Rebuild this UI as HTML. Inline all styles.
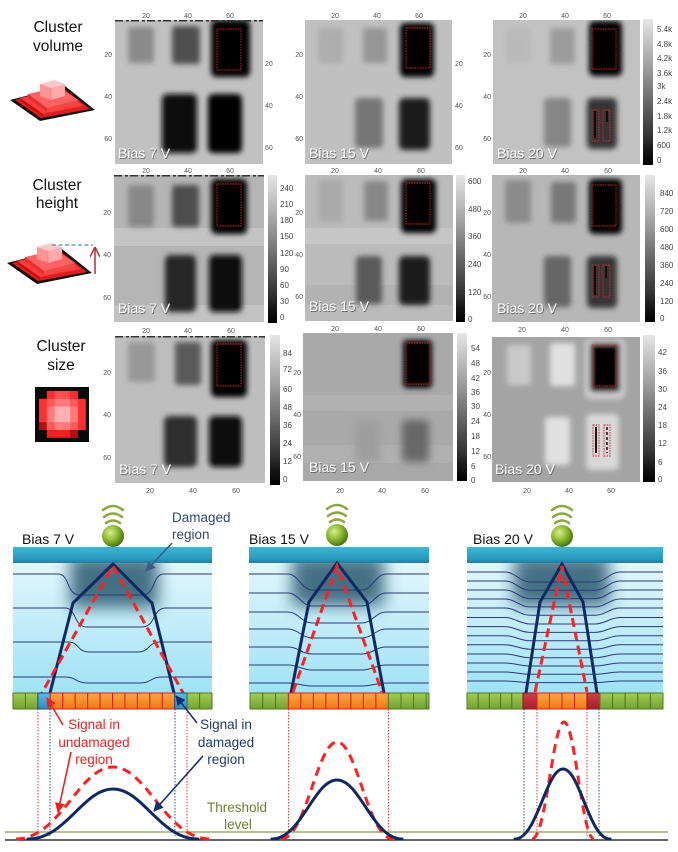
<!DOCTYPE html>
<html><head><meta charset="utf-8"><style>
html,body{margin:0;padding:0;background:#fff;}
svg{display:block;}
text{font-family:"Liberation Sans",sans-serif;}
.ax{font-size:7px;fill:#555;}
.axe{font-size:7px;fill:#555;text-anchor:end;}
.axm{font-size:7px;fill:#555;text-anchor:middle;}
.cb{font-size:8px;fill:#444;}
.bias{font-size:14px;fill:#fff;}
.bsh{font-size:14px;fill:#555;opacity:0.75;}
.rl{font-size:15.5px;fill:#111;text-anchor:middle;}
.rd{stroke:#e02020;stroke-width:0.9;fill:none;stroke-dasharray:1.6,1;}
</style></head><body>
<svg width="678" height="852" viewBox="0 0 678 852" xmlns="http://www.w3.org/2000/svg">
<defs>
<filter id="bl" x="-30%" y="-30%" width="160%" height="160%"><feGaussianBlur stdDeviation="2.6"/></filter>
<filter id="bl4" x="-40%" y="-40%" width="180%" height="180%"><feGaussianBlur stdDeviation="4"/></filter>
<filter id="dmg" x="-60%" y="-60%" width="220%" height="220%"><feGaussianBlur stdDeviation="8"/></filter>
<linearGradient id="cb" x1="0" y1="0" x2="0" y2="1">
<stop offset="0" stop-color="#e6e6e6"/><stop offset="0.1" stop-color="#d0d0d0"/><stop offset="0.2" stop-color="#bbb"/>
<stop offset="0.35" stop-color="#9a9a9a"/><stop offset="0.5" stop-color="#777"/><stop offset="0.65" stop-color="#555"/>
<stop offset="0.8" stop-color="#333"/><stop offset="0.9" stop-color="#161616"/><stop offset="1" stop-color="#000"/></linearGradient>
<linearGradient id="bar" x1="0" y1="0" x2="0" y2="1"><stop offset="0" stop-color="#3cb6d6"/><stop offset="0.7" stop-color="#2a9cc0"/><stop offset="1" stop-color="#1f80a2"/></linearGradient>
<linearGradient id="body" x1="0" y1="0" x2="0" y2="1"><stop offset="0" stop-color="#e2f6fc"/><stop offset="1" stop-color="#9fe2f6"/></linearGradient>
<radialGradient id="ball" cx="0.38" cy="0.35" r="0.7"><stop offset="0" stop-color="#d8ee90"/><stop offset="0.5" stop-color="#8cbb30"/><stop offset="1" stop-color="#3f6a0c"/></radialGradient>
<linearGradient id="gp" x1="0" y1="0" x2="0" y2="1"><stop offset="0" stop-color="#a2cd55"/><stop offset="1" stop-color="#72a234"/></linearGradient>
<linearGradient id="op" x1="0" y1="0" x2="0" y2="1"><stop offset="0" stop-color="#fca544"/><stop offset="1" stop-color="#f07812"/></linearGradient>
<linearGradient id="bp" x1="0" y1="0" x2="0" y2="1"><stop offset="0" stop-color="#5bbbe4"/><stop offset="1" stop-color="#2d8cc4"/></linearGradient>
<linearGradient id="rp" x1="0" y1="0" x2="0" y2="1"><stop offset="0" stop-color="#d24048"/><stop offset="1" stop-color="#a81e28"/></linearGradient>
<marker id="ar" markerUnits="userSpaceOnUse" markerWidth="10" markerHeight="10" refX="9" refY="5" orient="auto"><path d="M0,0 L10,5 L0,10 z" fill="#f02020"/></marker>
<marker id="an" markerUnits="userSpaceOnUse" markerWidth="10" markerHeight="10" refX="9" refY="5" orient="auto"><path d="M0,0 L10,5 L0,10 z" fill="#14306a"/></marker>
<marker id="as" markerUnits="userSpaceOnUse" markerWidth="10" markerHeight="10" refX="9" refY="5" orient="auto"><path d="M0,0 L10,5 L0,10 z" fill="#3a5a8a"/></marker>
<marker id="aup" markerUnits="userSpaceOnUse" markerWidth="10" markerHeight="10" refX="9" refY="5" orient="auto"><path d="M0,0 L10,5 L0,10" fill="none" stroke="#b03030" stroke-width="1.5"/></marker>
<clipPath id="c11"><rect x="115" y="20" width="148" height="144"/></clipPath>
<clipPath id="c12"><rect x="305" y="20" width="147" height="144"/></clipPath>
<clipPath id="c13"><rect x="493" y="20" width="147" height="144"/></clipPath>
<clipPath id="c21"><rect x="114" y="175" width="150" height="147"/></clipPath>
<clipPath id="c22"><rect x="305" y="175" width="148" height="146"/></clipPath>
<clipPath id="c23"><rect x="492" y="175" width="148" height="147"/></clipPath>
<clipPath id="c31"><rect x="115" y="336" width="150" height="147"/></clipPath>
<clipPath id="c32"><rect x="303" y="333" width="150" height="148"/></clipPath>
<clipPath id="c33"><rect x="492" y="337" width="148" height="145"/></clipPath>
<clipPath id="p1"><rect x="13" y="563" width="199" height="130"/></clipPath>
<clipPath id="p2"><rect x="249" y="563" width="180" height="130"/></clipPath>
<clipPath id="p3"><rect x="467" y="563" width="196" height="130"/></clipPath>
</defs>
<rect width="678" height="852" fill="#fff"/>

<!-- Row labels -->
<text class="rl" x="58" y="32">Cluster</text>
<text class="rl" x="58" y="51">volume</text>
<text class="rl" x="57" y="190">Cluster</text>
<text class="rl" x="57" y="208">height</text>
<text class="rl" x="61" y="351">Cluster</text>
<text class="rl" x="61" y="370">size</text>

<!-- Pyramid icon row 1 -->
<g id="pyr">
<polygon points="10,100 65,86 95,110 40,121" fill="#111"/>
<polygon points="15,100 63,88 90,109 41,118" fill="#e81c1c"/>
<polygon points="20,98 60,89 84,106 43,114" fill="#ff3a3a"/>
<polygon points="20,98 43,114 43,117 20,101" fill="#c01010"/>
<polygon points="43,114 84,106 84,109 43,117" fill="#d82020"/>
<polygon points="28,94 59,87 78,100 47,108" fill="#ff6262"/>
<polygon points="28,94 47,108 47,112 28,98" fill="#e03030"/>
<polygon points="47,108 78,100 78,104 47,112" fill="#f04848"/>
<polygon points="40,84 54,80 65,84 51,88" fill="#ffc8c8"/>
<polygon points="40,84 51,88 51,100 40,96" fill="#ff9494"/>
<polygon points="51,88 65,84 65,96 51,100" fill="#ffaaaa"/>
<line x1="51" y1="88" x2="51" y2="100" stroke="#ff7070" stroke-width="0.6"/>
</g>
<!-- Row 2 icon -->
<use href="#pyr" transform="translate(-3,163)"/>
<line x1="52" y1="245" x2="93" y2="245" stroke="#4a8ad0" stroke-width="1.3" stroke-dasharray="4,2.5"/>
<line x1="95" y1="274" x2="95" y2="248" stroke="#b03030" stroke-width="1.5" marker-end="url(#aup)"/>
<!-- Row 3 icon -->
<rect x="35" y="387" width="54" height="55" fill="#0a0a0a"/>
<g>
<rect x="46.8" y="391" width="31.2" height="7.8" fill="#ff2a2a"/>
<rect x="39" y="398.8" width="46.8" height="31.2" fill="#ff3030"/>
<rect x="46.8" y="430" width="31.2" height="7.8" fill="#ee2020"/>
<rect x="39" y="422.2" width="7.8" height="7.8" fill="#b01010"/>
<rect x="70.2" y="430" width="7.8" height="7.8" fill="#b01010"/>
<rect x="46.8" y="398.8" width="31.2" height="31.2" fill="#ff5a5a"/>
<rect x="54.6" y="398.8" width="15.6" height="31.2" fill="#ff7a7a"/>
<rect x="46.8" y="406.6" width="31.2" height="15.6" fill="#ff7a7a"/>
<rect x="54.6" y="406.6" width="15.6" height="15.6" fill="#ffb0b0"/>
<rect x="54.6" y="391" width="15.6" height="7.8" fill="#ff5050"/>
</g>

<!-- ============ ROW 1 ============ -->
<g clip-path="url(#c11)">
<rect x="115" y="20" width="148" height="144" fill="#c1c1c1"/>
<g filter="url(#bl)">
<rect x="128" y="27" width="26" height="36" rx="3" fill="#8a8a8a"/>
<rect x="172" y="26" width="28" height="38" rx="3" fill="#505050"/>
<rect x="211" y="20" width="39" height="57" rx="5" fill="#000"/>
<rect x="162" y="94" width="35" height="59" rx="5" fill="#0e0e0e"/>
<rect x="208" y="94" width="34" height="59" rx="5" fill="#030303"/>
</g>
<line x1="115" y1="20.8" x2="263" y2="20.8" stroke="#333" stroke-width="1.5" stroke-dasharray="8,3,3,2"/>
</g>
<rect class="rd" x="217" y="29" width="24" height="41"/>
<text class="axm" x="146" y="18">20</text><text class="axm" x="188" y="18">40</text><text class="axm" x="230" y="18">60</text>
<text class="axe" x="112" y="57">20</text><text class="axe" x="112" y="99">40</text><text class="axe" x="112" y="141">60</text>
<text class="ax" x="265" y="66">20</text><text class="ax" x="265" y="108">40</text><text class="ax" x="265" y="150">60</text>
<text class="bsh" x="118.8" y="158.8">Bias 7 V</text><text class="bias" x="118" y="158">Bias 7 V</text>

<g clip-path="url(#c12)">
<rect x="305" y="20" width="147" height="144" fill="#c0c0c0"/>
<g filter="url(#bl)">
<rect x="318" y="28" width="25" height="35" rx="3" fill="#adadad"/>
<rect x="363" y="28" width="24" height="35" rx="3" fill="#969696"/>
<rect x="400" y="23" width="34" height="54" rx="5" fill="#000"/>
<rect x="355" y="98" width="28" height="50" rx="4" fill="#767676"/>
<rect x="399" y="98" width="31" height="52" rx="5" fill="#1a1a1a"/>
</g>
</g>
<rect class="rd" x="406" y="28" width="24" height="40"/>
<text class="axm" x="335" y="18">20</text><text class="axm" x="377" y="18">40</text><text class="axm" x="419" y="18">60</text>
<text class="axe" x="303" y="57">20</text><text class="axe" x="303" y="99">40</text><text class="axe" x="303" y="141">60</text>
<text class="ax" x="455" y="66">20</text><text class="ax" x="455" y="108">40</text><text class="ax" x="455" y="150">60</text>
<text class="bsh" x="309.8" y="158.8">Bias 15 V</text><text class="bias" x="309" y="158">Bias 15 V</text>

<g clip-path="url(#c13)">
<rect x="493" y="20" width="147" height="144" fill="#c2c2c2"/>
<g filter="url(#bl)">
<rect x="506" y="28" width="25" height="35" rx="3" fill="#b9b9b9"/>
<rect x="550" y="28" width="25" height="36" rx="3" fill="#9c9c9c"/>
<rect x="589" y="21" width="33" height="55" rx="5" fill="#000"/>
<rect x="544" y="98" width="27" height="49" rx="4" fill="#868686"/>
<rect x="587" y="98" width="30" height="51" rx="5" fill="#363636"/>
</g>
<line x1="595" y1="111" x2="595" y2="138" stroke="#000" stroke-width="1.5"/>
<line x1="607" y1="111" x2="607" y2="122" stroke="#000" stroke-width="1.5"/>
</g>
<rect class="rd" x="592" y="29" width="24" height="40"/>
<rect class="rd" x="592" y="110" width="7" height="31"/>
<rect class="rd" x="603" y="110" width="7" height="31"/>
<text class="axm" x="523" y="18">20</text><text class="axm" x="565" y="18">40</text><text class="axm" x="607" y="18">60</text>
<text class="axe" x="491" y="57">20</text><text class="axe" x="491" y="99">40</text><text class="axe" x="491" y="141">60</text>
<rect x="643" y="19" width="10" height="146" fill="url(#cb)"/>
<text class="cb" x="657" y="32">5.4k</text><text class="cb" x="657" y="47">4.8k</text><text class="cb" x="657" y="61">4.2k</text>
<text class="cb" x="657" y="76">3.6k</text><text class="cb" x="657" y="89">3k</text><text class="cb" x="657" y="104">2.4k</text>
<text class="cb" x="657" y="119">1.8k</text><text class="cb" x="657" y="133">1.2k</text><text class="cb" x="657" y="148">600</text>
<text class="cb" x="657" y="163">0</text>
<text class="bsh" x="497.8" y="158.8">Bias 20 V</text><text class="bias" x="497" y="158">Bias 20 V</text>

<!-- ============ ROW 2 ============ -->
<g clip-path="url(#c21)">
<rect x="114" y="175" width="150" height="147" fill="#b5b5b5"/>
<rect x="114" y="228" width="150" height="18" fill="#c4c4c4"/>
<rect x="114" y="305" width="150" height="17" fill="#c2c2c2"/>
<g filter="url(#bl)">
<rect x="128" y="185" width="26" height="42" rx="3" fill="#888"/>
<rect x="172" y="185" width="27" height="42" rx="3" fill="#4e4e4e"/>
<rect x="211" y="179" width="36" height="55" rx="5" fill="#000"/>
<rect x="165" y="255" width="31" height="57" rx="5" fill="#262626"/>
<rect x="209" y="255" width="33" height="57" rx="5" fill="#0b0b0b"/>
</g>
<line x1="114" y1="175.8" x2="264" y2="175.8" stroke="#333" stroke-width="1.5" stroke-dasharray="8,3,3,2"/>
</g>
<rect class="rd" x="217" y="184" width="24" height="42"/>
<rect x="268" y="175" width="9" height="148" fill="url(#cb)"/>
<text class="cb" x="280" y="191">240</text><text class="cb" x="280" y="207">210</text><text class="cb" x="280" y="223">180</text>
<text class="cb" x="280" y="239">150</text><text class="cb" x="280" y="256">120</text><text class="cb" x="280" y="272">90</text>
<text class="cb" x="280" y="288">60</text><text class="cb" x="280" y="304">30</text><text class="cb" x="280" y="320">0</text>
<text class="axm" x="146" y="173">20</text><text class="axm" x="188" y="173">40</text><text class="axm" x="230" y="173">60</text>
<text class="axe" x="111" y="215">20</text><text class="axe" x="111" y="257">40</text><text class="axe" x="111" y="300">60</text>
<text class="axm" x="146" y="333">20</text><text class="axm" x="188" y="333">40</text><text class="axm" x="231" y="333">60</text>
<text class="bsh" x="118.8" y="313.8">Bias 7 V</text><text class="bias" x="118" y="313">Bias 7 V</text>

<g clip-path="url(#c22)">
<rect x="305" y="175" width="148" height="146" fill="#bbbbbb"/>
<rect x="305" y="228" width="148" height="16" fill="#c6c6c6"/>
<rect x="305" y="285" width="148" height="20" fill="#b2b2b2"/>
<g filter="url(#bl)">
<rect x="318" y="180" width="25" height="42" rx="3" fill="#aaa"/>
<rect x="364" y="181" width="24" height="40" rx="3" fill="#888"/>
<rect x="401" y="179" width="35" height="54" rx="5" fill="#000"/>
<rect x="356" y="256" width="26" height="48" rx="4" fill="#5a5a5a"/>
<rect x="399" y="256" width="31" height="49" rx="5" fill="#1a1a1a"/>
</g>
</g>
<rect class="rd" x="406" y="183" width="24" height="41"/>
<rect x="456" y="175" width="9" height="147" fill="url(#cb)"/>
<text class="cb" x="468" y="184">600</text><text class="cb" x="468" y="212">480</text><text class="cb" x="468" y="239">360</text>
<text class="cb" x="468" y="267">240</text><text class="cb" x="468" y="295">120</text><text class="cb" x="468" y="322">0</text>
<text class="axm" x="335" y="173">20</text><text class="axm" x="378" y="173">40</text><text class="axm" x="421" y="173">60</text>
<text class="axe" x="303" y="215">20</text><text class="axe" x="303" y="257">40</text><text class="axe" x="303" y="299">60</text>
<text class="axm" x="335" y="331">20</text><text class="axm" x="378" y="331">40</text><text class="axm" x="421" y="331">60</text>
<text class="bsh" x="309.8" y="311.8">Bias 15 V</text><text class="bias" x="309" y="311">Bias 15 V</text>

<g clip-path="url(#c23)">
<rect x="492" y="175" width="148" height="147" fill="#b7b7b7"/>
<g filter="url(#bl)">
<rect x="505" y="180" width="26" height="43" rx="3" fill="#8c8c8c"/>
<rect x="551" y="182" width="25" height="41" rx="3" fill="#787878"/>
<rect x="589" y="179" width="33" height="55" rx="5" fill="#000"/>
<rect x="544" y="256" width="27" height="51" rx="4" fill="#666"/>
<rect x="587" y="256" width="30" height="52" rx="5" fill="#363636"/>
</g>
<line x1="595" y1="266" x2="595" y2="295" stroke="#000" stroke-width="1.5"/>
<line x1="606" y1="266" x2="606" y2="278" stroke="#000" stroke-width="1.5"/>
</g>
<rect class="rd" x="592" y="185" width="24" height="41"/>
<rect class="rd" x="592" y="265" width="7" height="32"/>
<rect class="rd" x="603" y="265" width="7" height="32"/>
<rect x="645" y="175" width="10" height="147" fill="url(#cb)"/>
<text class="cb" x="660" y="196">840</text><text class="cb" x="660" y="214">720</text><text class="cb" x="660" y="232">600</text>
<text class="cb" x="660" y="250">480</text><text class="cb" x="660" y="268">360</text><text class="cb" x="660" y="286">240</text>
<text class="cb" x="660" y="304">120</text><text class="cb" x="660" y="321">0</text>
<text class="axm" x="523" y="173">20</text><text class="axm" x="565" y="173">40</text><text class="axm" x="608" y="173">60</text>
<text class="axe" x="491" y="215">20</text><text class="axe" x="491" y="257">40</text><text class="axe" x="491" y="299">60</text>
<text class="axm" x="522" y="332">20</text><text class="axm" x="565" y="332">40</text><text class="axm" x="608" y="332">60</text>
<text class="bsh" x="497.8" y="313.8">Bias 20 V</text><text class="bias" x="497" y="313">Bias 20 V</text>

<!-- ============ ROW 3 ============ -->
<g clip-path="url(#c31)">
<rect x="115" y="336" width="150" height="147" fill="#bebebe"/>
<g filter="url(#bl)">
<rect x="128" y="342" width="27" height="40" rx="3" fill="#989898"/>
<rect x="175" y="342" width="26" height="43" rx="3" fill="#5a5a5a"/>
<rect x="211" y="340" width="36" height="57" rx="5" fill="#000"/>
<rect x="164" y="416" width="33" height="51" rx="5" fill="#2f2f2f"/>
<rect x="209" y="416" width="33" height="51" rx="5" fill="#0b0b0b"/>
</g>
<line x1="115" y1="336.8" x2="265" y2="336.8" stroke="#333" stroke-width="1.5" stroke-dasharray="8,3,3,2"/>
</g>
<rect class="rd" x="217" y="344" width="24" height="42"/>
<rect x="270" y="335" width="10" height="150" fill="url(#cb)"/>
<text class="cb" x="283" y="356">84</text><text class="cb" x="283" y="372">72</text><text class="cb" x="283" y="392">60</text>
<text class="cb" x="283" y="410">48</text><text class="cb" x="283" y="428">36</text><text class="cb" x="283" y="446">24</text>
<text class="cb" x="283" y="464">12</text><text class="cb" x="283" y="482">0</text>
<text class="axe" x="111" y="375">20</text><text class="axe" x="111" y="417">40</text><text class="axe" x="111" y="460">60</text>
<text class="axm" x="150" y="493">20</text><text class="axm" x="193" y="493">40</text><text class="axm" x="236" y="493">60</text>
<text class="bsh" x="119.8" y="474.8">Bias 7 V</text><text class="bias" x="119" y="474">Bias 7 V</text>

<g clip-path="url(#c32)">
<rect x="303" y="333" width="150" height="148" fill="#a9a9a9"/>
<rect x="303" y="395" width="150" height="16" fill="#b1b1b1"/>
<rect x="303" y="445" width="150" height="18" fill="#b0b0b0"/>
<g filter="url(#bl4)">
<rect x="355" y="420" width="25" height="42" rx="3" fill="#9e9e9e"/>
<rect x="402" y="420" width="27" height="42" rx="4" fill="#686868"/>
</g>
<g filter="url(#bl)">
<rect x="403" y="340" width="29" height="48" rx="4" fill="#000"/>
</g>
</g>
<rect class="rd" x="406" y="343" width="24" height="41"/>
<rect x="457" y="333" width="10" height="148" fill="url(#cb)"/>
<text class="cb" x="471" y="351">54</text><text class="cb" x="471" y="366">48</text><text class="cb" x="471" y="381">42</text>
<text class="cb" x="471" y="395">36</text><text class="cb" x="471" y="409">30</text><text class="cb" x="471" y="424">24</text>
<text class="cb" x="471" y="439">18</text><text class="cb" x="471" y="454">12</text><text class="cb" x="471" y="469">6</text>
<text class="cb" x="471" y="483">0</text>
<text class="axe" x="301" y="375">20</text><text class="axe" x="301" y="417">40</text><text class="axe" x="301" y="459">60</text>
<text class="axm" x="340" y="493">20</text><text class="axm" x="382" y="493">40</text><text class="axm" x="425" y="493">60</text>
<text class="bsh" x="309.8" y="472.8">Bias 15 V</text><text class="bias" x="309" y="472">Bias 15 V</text>

<g clip-path="url(#c33)">
<rect x="492" y="337" width="148" height="145" fill="#a4a4a4"/>
<g filter="url(#bl)">
<rect x="507" y="345" width="24" height="40" rx="3" fill="#c9c9c9"/>
<rect x="550" y="343" width="25" height="43" rx="3" fill="#e0e0e0"/>
<rect x="585" y="339" width="40" height="60" rx="5" fill="#cfcfcf"/>
<rect x="590" y="343" width="30" height="49" rx="3" fill="#000"/>
<rect x="545" y="417" width="25" height="48" rx="3" fill="#e0e0e0"/>
<rect x="586" y="414" width="33" height="56" rx="5" fill="#d8d8d8"/>
</g>
<line x1="596" y1="427" x2="596" y2="453" stroke="#000" stroke-width="1.8"/>
<line x1="607" y1="427" x2="607" y2="453" stroke="#111" stroke-width="1.5" stroke-dasharray="3,2"/>
</g>
<rect class="rd" x="592" y="345" width="24" height="41"/>
<rect class="rd" x="593" y="425" width="6" height="31"/>
<rect class="rd" x="604" y="425" width="6" height="31"/>
<rect x="643" y="335" width="12" height="147" fill="url(#cb)"/>
<text class="cb" x="658" y="355">42</text><text class="cb" x="658" y="374">36</text><text class="cb" x="658" y="392">30</text>
<text class="cb" x="658" y="410">24</text><text class="cb" x="658" y="428">18</text><text class="cb" x="658" y="446">12</text>
<text class="cb" x="658" y="465">6</text><text class="cb" x="658" y="482">0</text>
<text class="axe" x="491" y="375">20</text><text class="axe" x="491" y="417">40</text><text class="axe" x="491" y="459">60</text>
<text class="axm" x="527" y="493">20</text><text class="axm" x="569" y="493">40</text><text class="axm" x="611" y="493">60</text>
<text class="bsh" x="495.8" y="474.8">Bias 20 V</text><text class="bias" x="495" y="474">Bias 20 V</text>

<!-- ============ BOTTOM PANELS ============ -->
<!-- Panel 1 -->
<text x="22" y="544" font-size="14" fill="#111">Bias 7 V</text>
<g fill="none" stroke="#8aa83a" stroke-width="2.5" stroke-linecap="round">
<path d="M103,510 Q113,502 123,510"/><path d="M104,517 Q113,510 122,517"/><path d="M106,523 Q113,518 120,523"/>
</g>
<circle cx="113" cy="536" r="11" fill="url(#ball)"/>
<rect x="13" y="547" width="199" height="16" fill="url(#bar)"/>
<rect x="13" y="563" width="199" height="130" fill="url(#body)"/>
<g clip-path="url(#p1)"><rect x="70" y="556" width="88" height="52" fill="#2c5a70" opacity="0.85" filter="url(#dmg)"/></g>
<g fill="none" stroke="#2a3a78" stroke-width="1">
<path d="M13,574 H58 C70,574 66,595 80,595 H142 C156,595 152,574 164,574 H212"/>
<path d="M13,608 H65 C77,608 73,627 87,627 H142 C156,627 152,608 166,608 H212"/>
<path d="M13,642 H68 C80,642 76,652 90,652 H138 C150,652 148,642 160,642 H212"/>
<path d="M13,677 H65 C77,677 75,683 88,683 H140 C152,683 150,677 162,677 H212"/>
</g>
<path d="M50,693 L73,603 L113,564 L152,603 L174,693" fill="none" stroke="#0f2a62" stroke-width="3" stroke-linejoin="miter"/>
<path d="M38,700 L113,566 L187,700" fill="none" stroke="#ff2020" stroke-width="3" stroke-dasharray="9,5"/>
<g stroke-width="1">
<rect x="13" y="693" width="12.44" height="16" fill="url(#gp)" stroke="#4d7a20"/>
<rect x="25.44" y="693" width="12.44" height="16" fill="url(#gp)" stroke="#4d7a20"/>
<rect x="37.88" y="693" width="12.44" height="16" fill="url(#bp)" stroke="#1f4a80"/>
<rect x="50.32" y="693" width="12.44" height="16" fill="url(#op)" stroke="#d82020"/>
<rect x="62.76" y="693" width="12.44" height="16" fill="url(#op)" stroke="#d82020"/>
<rect x="75.2" y="693" width="12.44" height="16" fill="url(#op)" stroke="#d82020"/>
<rect x="87.64" y="693" width="12.44" height="16" fill="url(#op)" stroke="#d82020"/>
<rect x="100.08" y="693" width="12.44" height="16" fill="url(#op)" stroke="#d82020"/>
<rect x="112.52" y="693" width="12.44" height="16" fill="url(#op)" stroke="#d82020"/>
<rect x="124.96" y="693" width="12.44" height="16" fill="url(#op)" stroke="#d82020"/>
<rect x="137.4" y="693" width="12.44" height="16" fill="url(#op)" stroke="#d82020"/>
<rect x="149.84" y="693" width="12.44" height="16" fill="url(#op)" stroke="#d82020"/>
<rect x="162.28" y="693" width="12.44" height="16" fill="url(#op)" stroke="#d82020"/>
<rect x="174.72" y="693" width="12.44" height="16" fill="url(#bp)" stroke="#1f4a80"/>
<rect x="187.16" y="693" width="12.44" height="16" fill="url(#gp)" stroke="#4d7a20"/>
<rect x="199.6" y="693" width="12.4" height="16" fill="url(#gp)" stroke="#4d7a20"/>
</g>
<g stroke-width="0.9" stroke-dasharray="1.5,1.5">
<line x1="38" y1="709" x2="38" y2="836" stroke="#e02020"/>
<line x1="187" y1="709" x2="187" y2="836" stroke="#e02020"/>
<line x1="50" y1="709" x2="50" y2="836" stroke="#1f3a80"/>
<line x1="175" y1="709" x2="175" y2="836" stroke="#1f3a80"/>
</g>

<!-- Panel 2 -->
<text x="249" y="544" font-size="14" fill="#111">Bias 15 V</text>
<g fill="none" stroke="#8aa83a" stroke-width="2.5" stroke-linecap="round">
<path d="M327,509 Q337,501 347,509"/><path d="M328,516 Q337,509 346,516"/><path d="M330,522 Q337,517 344,522"/>
</g>
<circle cx="337" cy="535" r="11" fill="url(#ball)"/>
<rect x="249" y="547" width="180" height="16" fill="url(#bar)"/>
<rect x="249" y="563" width="180" height="130" fill="url(#body)"/>
<g clip-path="url(#p2)"><rect x="292" y="556" width="92" height="50" fill="#2c5a70" opacity="0.85" filter="url(#dmg)"/></g>
<g fill="none" stroke="#2a3a78" stroke-width="1">
<path d="M249,574 H288 C298,574 302,590 312,590 H362 C372,590 376,574 386,574 H429"/>
<path d="M249,593 H288 C298,593 302,606 312,606 H362 C372,606 376,593 386,593 H429"/>
<path d="M249,612 H288 C298,612 302,623 312,623 H362 C372,623 376,612 386,612 H429"/>
<path d="M249,629 H288 C298,629 302,638 312,638 H362 C372,638 376,629 386,629 H429"/>
<path d="M249,647 H288 C298,647 302,654 312,654 H362 C372,654 376,647 386,647 H429"/>
<path d="M249,665 H288 C298,665 302,670 312,670 H362 C372,670 376,665 386,665 H429"/>
<path d="M249,683 H288 C298,683 302,686 312,686 H362 C372,686 376,683 386,683 H429"/>
</g>
<path d="M291,693 L309,602 L337,563 L367,602 L384,693" fill="none" stroke="#0f2a62" stroke-width="3"/>
<path d="M293,692 L337,566 L382,692" fill="none" stroke="#ff2020" stroke-width="3" stroke-dasharray="9,5"/>
<g stroke-width="1">
<rect x="250" y="693" width="12.8" height="16" fill="url(#gp)" stroke="#4d7a20"/>
<rect x="262.8" y="693" width="12.8" height="16" fill="url(#gp)" stroke="#4d7a20"/>
<rect x="275.6" y="693" width="12.8" height="16" fill="url(#gp)" stroke="#4d7a20"/>
<rect x="288.4" y="693" width="12.5" height="16" fill="url(#op)" stroke="#d82020"/>
<rect x="300.9" y="693" width="12.5" height="16" fill="url(#op)" stroke="#d82020"/>
<rect x="313.4" y="693" width="12.5" height="16" fill="url(#op)" stroke="#d82020"/>
<rect x="325.9" y="693" width="12.5" height="16" fill="url(#op)" stroke="#d82020"/>
<rect x="338.4" y="693" width="12.5" height="16" fill="url(#op)" stroke="#d82020"/>
<rect x="350.9" y="693" width="12.5" height="16" fill="url(#op)" stroke="#d82020"/>
<rect x="363.4" y="693" width="12.5" height="16" fill="url(#op)" stroke="#d82020"/>
<rect x="375.9" y="693" width="12.5" height="16" fill="url(#op)" stroke="#d82020"/>
<rect x="388.4" y="693" width="12.6" height="16" fill="url(#gp)" stroke="#4d7a20"/>
<rect x="401" y="693" width="12.6" height="16" fill="url(#gp)" stroke="#4d7a20"/>
<rect x="413.6" y="693" width="12.6" height="16" fill="url(#gp)" stroke="#4d7a20"/>
<rect x="426.2" y="693" width="2.8" height="16" fill="url(#gp)" stroke="#4d7a20"/>
</g>
<g stroke-width="0.9" stroke-dasharray="1.5,1.5">
<line x1="288.4" y1="709" x2="288.4" y2="836" stroke="#e02020"/>
<line x1="388.4" y1="709" x2="388.4" y2="836" stroke="#e02020"/>
</g>

<!-- Panel 3 -->
<text x="473" y="544" font-size="14" fill="#111">Bias 20 V</text>
<g fill="none" stroke="#8aa83a" stroke-width="2.5" stroke-linecap="round">
<path d="M552,510 Q562,502 572,510"/><path d="M553,517 Q562,510 571,517"/><path d="M555,523 Q562,518 569,523"/>
</g>
<circle cx="562" cy="536" r="11" fill="url(#ball)"/>
<rect x="467" y="547" width="196" height="16" fill="url(#bar)"/>
<rect x="467" y="563" width="196" height="130" fill="url(#body)"/>
<g clip-path="url(#p3)"><rect x="514" y="556" width="95" height="50" fill="#2c5a70" opacity="0.85" filter="url(#dmg)"/></g>
<g fill="none" stroke="#2a3a78" stroke-width="1">
<path d="M467,572 H505 C515,572 520,582 530,582 H595 C605,582 610,572 620,572 H663"/>
<path d="M467,581 H505 C515,581 520,590.3 530,590.3 H595 C605,590.3 610,581 620,581 H663"/>
<path d="M467,590 H505 C515,590 520,598.6 530,598.6 H595 C605,598.6 610,590 620,590 H663"/>
<path d="M467,599 H505 C515,599 520,606.9 530,606.9 H595 C605,606.9 610,599 620,599 H663"/>
<path d="M467,608 H505 C515,608 520,615.2 530,615.2 H595 C605,615.2 610,608 620,608 H663"/>
<path d="M467,617.5 H505 C515,617.5 520,624 530,624 H595 C605,624 610,617.5 620,617.5 H663"/>
<path d="M467,626.6 H505 C515,626.6 520,632.4 530,632.4 H595 C605,632.4 610,626.6 620,626.6 H663"/>
<path d="M467,635.7 H505 C515,635.7 520,640.8 530,640.8 H595 C605,640.8 610,635.7 620,635.7 H663"/>
<path d="M467,644.8 H505 C515,644.8 520,649.2 530,649.2 H595 C605,649.2 610,644.8 620,644.8 H663"/>
<path d="M467,654 H505 C515,654 520,657.7 530,657.7 H595 C605,657.7 610,654 620,654 H663"/>
<path d="M467,663 H505 C515,663 520,666 530,666 H595 C605,666 610,663 620,663 H663"/>
<path d="M467,672 H505 C515,672 520,674.3 530,674.3 H595 C605,674.3 610,672 620,672 H663"/>
<path d="M467,681 H505 C515,681 520,682.6 530,682.6 H595 C605,682.6 610,681 620,681 H663"/>
</g>
<path d="M526,693 L540,602 L562,564 L583,602 L597,693" fill="none" stroke="#0f2a62" stroke-width="3"/>
<path d="M535,692 L562,566 L587,692" fill="none" stroke="#ff2020" stroke-width="3" stroke-dasharray="9,5"/>
<g stroke-width="1">
<rect x="467" y="693" width="11.2" height="16" fill="url(#gp)" stroke="#4d7a20"/>
<rect x="478.2" y="693" width="11.2" height="16" fill="url(#gp)" stroke="#4d7a20"/>
<rect x="489.4" y="693" width="11.2" height="16" fill="url(#gp)" stroke="#4d7a20"/>
<rect x="500.6" y="693" width="11.2" height="16" fill="url(#gp)" stroke="#4d7a20"/>
<rect x="511.8" y="693" width="11.2" height="16" fill="url(#gp)" stroke="#4d7a20"/>
<rect x="523" y="693" width="14" height="16" fill="url(#rp)" stroke="#801818"/>
<rect x="537" y="693" width="12.5" height="16" fill="url(#op)" stroke="#d82020"/>
<rect x="549.5" y="693" width="12.5" height="16" fill="url(#op)" stroke="#d82020"/>
<rect x="562" y="693" width="12.5" height="16" fill="url(#op)" stroke="#d82020"/>
<rect x="574.5" y="693" width="12.5" height="16" fill="url(#op)" stroke="#d82020"/>
<rect x="587" y="693" width="13" height="16" fill="url(#rp)" stroke="#801818"/>
<rect x="600" y="693" width="12.6" height="16" fill="url(#gp)" stroke="#4d7a20"/>
<rect x="612.6" y="693" width="12.6" height="16" fill="url(#gp)" stroke="#4d7a20"/>
<rect x="625.2" y="693" width="12.6" height="16" fill="url(#gp)" stroke="#4d7a20"/>
<rect x="637.8" y="693" width="12.6" height="16" fill="url(#gp)" stroke="#4d7a20"/>
<rect x="650.4" y="693" width="12.6" height="16" fill="url(#gp)" stroke="#4d7a20"/>
</g>
<g stroke-width="0.9" stroke-dasharray="1.5,1.5">
<line x1="524" y1="709" x2="524" y2="836" stroke="#1f3a80"/>
<line x1="599" y1="709" x2="599" y2="836" stroke="#1f3a80"/>
<line x1="537" y1="709" x2="537" y2="836" stroke="#e02020"/>
<line x1="587" y1="709" x2="587" y2="836" stroke="#e02020"/>
</g>

<!-- Damaged region label -->
<text x="172" y="522" font-size="13.5" fill="#2c4a7a">Damaged</text>
<text x="172" y="539" font-size="13.5" fill="#2c4a7a">region</text>
<line x1="172" y1="543" x2="146" y2="571" stroke="#3a5a8a" stroke-width="1.6" marker-end="url(#as)"/>

<!-- Threshold & baseline -->
<line x1="5" y1="832" x2="668" y2="832" stroke="#8a9a50" stroke-width="1.2"/>
<line x1="5" y1="840" x2="668" y2="840" stroke="#333" stroke-width="1.5"/>

<!-- Bell curves -->
<path d="M16,839 C60,839 79,767 113,767 C147,767 166,839 210,839" fill="none" stroke="#ff2020" stroke-width="3" stroke-dasharray="9,6"/>
<path d="M28,839 C66,839 83,789 113,789 C143,789 160,839 198,839" fill="none" stroke="#0f2a62" stroke-width="3" stroke-linecap="round"/>
<path d="M281,839 C306,839 317,742 337,742 C357,742 368,839 393,839" fill="none" stroke="#ff2020" stroke-width="3" stroke-dasharray="9,6"/>
<path d="M272,839 C301,839 314,780 337,780 C360,780 373,839 402,839" fill="none" stroke="#0f2a62" stroke-width="3" stroke-linecap="round"/>
<path d="M532,839 C546,839 553,722 564,722 C575,722 582,839 594,839" fill="none" stroke="#ff2020" stroke-width="3" stroke-dasharray="9,6"/>
<path d="M515,839 C537,839 546,769 563,769 C580,769 589,839 610,839" fill="none" stroke="#0f2a62" stroke-width="3" stroke-linecap="round"/>

<!-- Signal labels -->
<g font-size="13.5" fill="#f02020" text-anchor="middle">
<text x="94" y="729">Signal in</text>
<text x="94" y="747">undamaged</text>
<text x="94" y="764">region</text>
</g>
<line x1="63" y1="725" x2="47" y2="698" stroke="#f02020" stroke-width="1.6" marker-end="url(#ar)"/>
<line x1="71" y1="752" x2="58" y2="812" stroke="#f02020" stroke-width="1.6" marker-end="url(#ar)"/>
<g font-size="13.5" fill="#1f3a70" text-anchor="middle">
<text x="226" y="729">Signal in</text>
<text x="226" y="747">damaged</text>
<text x="226" y="764">region</text>
</g>
<line x1="197" y1="723" x2="176" y2="696" stroke="#14306a" stroke-width="1.6" marker-end="url(#an)"/>
<line x1="203" y1="756" x2="154" y2="811" stroke="#14306a" stroke-width="1.6" marker-end="url(#an)"/>

<g font-size="13.5" fill="#6e7f2e" text-anchor="middle">
<text x="237" y="812">Threshold</text>
<text x="238" y="829">level</text>
</g>
</svg>
</body></html>
